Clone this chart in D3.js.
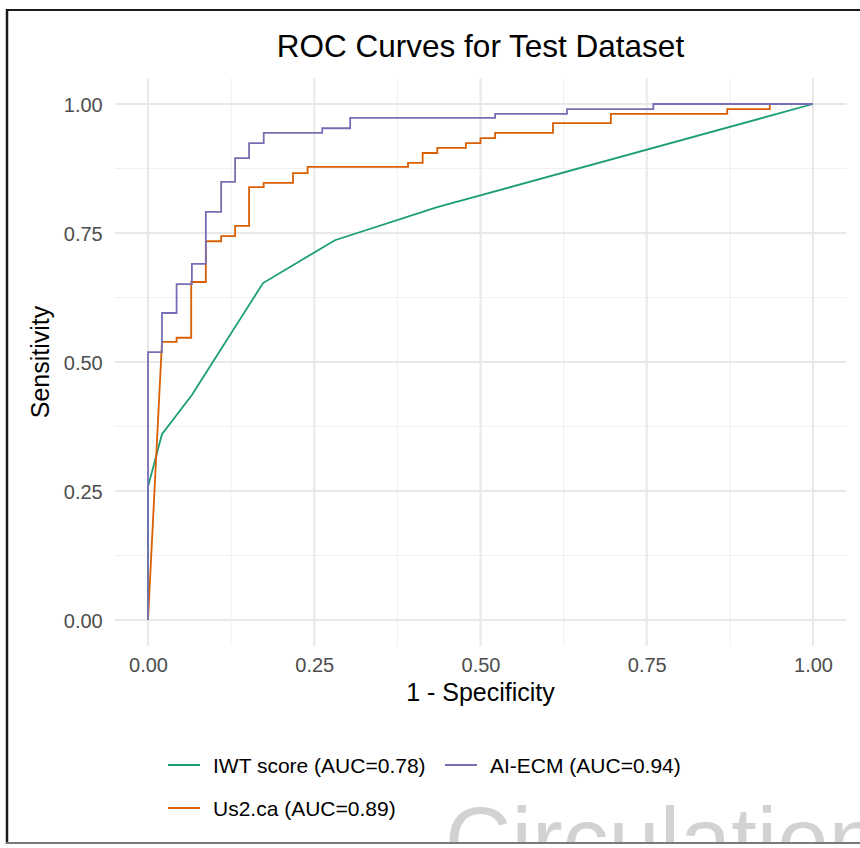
<!DOCTYPE html>
<html>
<head>
<meta charset="utf-8">
<script src="https://cdn.jsdelivr.net/npm/d3@7"></script>
<style>
  body { margin: 0; background: #fff; }
  text { font-family: "Liberation Sans", Arial, sans-serif; }
</style>
</head>
<body>
<div id="rocChart"></div>
<script>
// ROC curve points (1 - specificity, sensitivity)
const iwtFpr  = [0, 0, 0.021, 0.066, 0.173, 0.281, 0.435, 1];
const iwtSens = [0, 0.258, 0.36, 0.436, 0.653, 0.736, 0.80, 1];

const aiFpr  = [0, 0, 0.021, 0.021, 0.043, 0.043, 0.066, 0.066, 0.087, 0.087, 0.11, 0.11, 0.131, 0.131,
                0.152, 0.152, 0.174, 0.174, 0.262, 0.262, 0.304, 0.304, 0.522, 0.522, 0.63, 0.63, 0.76, 0.76, 1];
const aiSens = [0, 0.519, 0.519, 0.595, 0.595, 0.651, 0.651, 0.69, 0.69, 0.791, 0.791, 0.849, 0.849, 0.895,
                0.895, 0.924, 0.924, 0.944, 0.944, 0.953, 0.953, 0.973, 0.973, 0.981, 0.981, 0.99, 0.99, 1, 1];

const usFpr  = [0, 0.021, 0.043, 0.043, 0.065, 0.065, 0.087, 0.087, 0.11, 0.11, 0.131, 0.131, 0.152, 0.152,
                0.174, 0.174, 0.218, 0.218, 0.24, 0.24, 0.391, 0.391, 0.413, 0.413, 0.435, 0.435, 0.478, 0.478,
                0.50, 0.50, 0.522, 0.522, 0.609, 0.609, 0.696, 0.696, 0.871, 0.871, 0.935, 0.935, 1];
const usSens = [0, 0.539, 0.539, 0.547, 0.547, 0.655, 0.655, 0.734, 0.734, 0.744, 0.744, 0.764, 0.764, 0.839,
                0.839, 0.847, 0.847, 0.866, 0.866, 0.878, 0.878, 0.886, 0.886, 0.905, 0.905, 0.915, 0.915, 0.924,
                0.924, 0.934, 0.934, 0.944, 0.944, 0.963, 0.963, 0.981, 0.981, 0.99, 0.99, 1, 1];

const seriesNames = ["IWT score (AUC=0.78)", "AI-ECM (AUC=0.94)", "Us2.ca (AUC=0.89)"];
const majorTicks = [0, 0.25, 0.5, 0.75, 1];
const minorTicks = [0.125, 0.375, 0.625, 0.875];

const colors = ["#1B9E77", "#7570B3", "#D95F02"];
const width = 860, height = 848;

const svg = d3.select("#rocChart")
  .append("svg")
    .attr("width", width)
    .attr("height", height)
    .style("background-color", "#fff");

// panel: ggplot style 5% expansion around 0..1
const x = d3.scaleLinear().domain([0, 1]).range([148, 813]);
const y = d3.scaleLinear().domain([0, 1]).range([620, 104]);
const panelX = [x(-0.05), x(1.05)];
const panelY = [y(1.05), y(-0.05)];

const grid = svg.append("g");
grid.selectAll(".minor-x")
  .data(minorTicks)
  .join("line")
    .attr("x1", d => x(d)).attr("x2", d => x(d))
    .attr("y1", panelY[0]).attr("y2", panelY[1])
    .attr("stroke", "#f0f0f0").attr("stroke-width", 1.1);
grid.selectAll(".minor-y")
  .data(minorTicks)
  .join("line")
    .attr("y1", d => y(d)).attr("y2", d => y(d))
    .attr("x1", panelX[0]).attr("x2", panelX[1])
    .attr("stroke", "#f0f0f0").attr("stroke-width", 1.1);
grid.selectAll(".major-x")
  .data(majorTicks)
  .join("line")
    .attr("x1", d => x(d)).attr("x2", d => x(d))
    .attr("y1", panelY[0]).attr("y2", panelY[1])
    .attr("stroke", "#e8e8e8").attr("stroke-width", 2);
grid.selectAll(".major-y")
  .data(majorTicks)
  .join("line")
    .attr("y1", d => y(d)).attr("y2", d => y(d))
    .attr("x1", panelX[0]).attr("x2", panelX[1])
    .attr("stroke", "#e8e8e8").attr("stroke-width", 2);

// axes without lines, labels only
const xAxis = svg.append("g")
  .attr("transform", "translate(0," + (panelY[1] + 4) + ")")
  .call(d3.axisBottom(x).tickValues(majorTicks).tickFormat(d3.format(".2f")).tickSize(0).tickPadding(8));
const yAxis = svg.append("g")
  .attr("transform", "translate(" + (panelX[0] - 4) + ",0)")
  .call(d3.axisLeft(y).tickValues(majorTicks).tickFormat(d3.format(".2f")).tickSize(0).tickPadding(8));
svg.selectAll(".domain").remove();
svg.selectAll(".tick text")
  .style("fill", "#4d4d4d")
  .style("font-size", "20px")
  .style("font-family", "Liberation Sans, Arial, sans-serif");
yAxis.selectAll(".tick text").attr("dy", "0.36em");

const series = [
  {name: seriesNames[0], fpr: iwtFpr, sens: iwtSens, color: colors[0]},
  {name: seriesNames[1], fpr: aiFpr, sens: aiSens, color: colors[1]},
  {name: seriesNames[2], fpr: usFpr, sens: usSens, color: colors[2]}
];

const line = d3.line()
  .x(d => x(d[0]))
  .y(d => y(d[1]));

// draw order: IWT, Us2.ca, AI-ECM on top
[series[0], series[2], series[1]].forEach(s => {
  svg.append("path")
    .datum(s.fpr.map((f, i) => [f, s.sens[i]]))
    .attr("fill", "none")
    .attr("stroke", s.color)
    .attr("stroke-width", 1.8)
    .attr("stroke-linejoin", "miter")
    .attr("d", line);
});

svg.append("text")
  .attr("x", (panelX[0] + panelX[1]) / 2)
  .attr("y", 57)
  .attr("text-anchor", "middle")
  .style("font-size", "31.5px")
  .style("fill", "#000")
  .text("ROC Curves for Test Dataset");

svg.append("text")
  .attr("x", (panelX[0] + panelX[1]) / 2)
  .attr("y", 701)
  .attr("text-anchor", "middle")
  .style("font-size", "25px")
  .style("fill", "#000")
  .text("1 - Specificity");

svg.append("text")
  .attr("transform", "translate(49," + ((panelY[0] + panelY[1]) / 2) + ") rotate(-90)")
  .attr("text-anchor", "middle")
  .style("font-size", "25px")
  .style("fill", "#000")
  .text("Sensitivity");

// legend
const legendPos = [[168, 765], [445, 765], [168, 808]];
series.forEach((s, i) => {
  const g = svg.append("g").attr("transform", "translate(" + legendPos[i][0] + "," + legendPos[i][1] + ")");
  g.append("line")
    .attr("x1", 0).attr("x2", 32)
    .attr("stroke", s.color).attr("stroke-width", 2);
  g.append("text")
    .attr("x", 45)
    .attr("dy", "0.36em")
    .style("font-size", "21px")
    .style("fill", "#000")
    .text(s.name);
});

// journal watermark, cut at the frame
svg.append("clipPath").attr("id", "frameClip")
  .append("rect").attr("x", 0).attr("y", 0).attr("width", width).attr("height", 843);
svg.append("text")
  .attr("clip-path", "url(#frameClip)")
  .attr("x", 445)
  .attr("y", 872)
  .style("font-size", "92px")
  .style("fill", "#d2d2d2")
  .text("Circulation");

// frame
svg.append("line").attr("x1", 7).attr("x2", 7).attr("y1", 9).attr("y2", 844)
  .attr("stroke", "#1a1a1a").attr("stroke-width", 2.5);
svg.append("line").attr("x1", 6).attr("x2", width).attr("y1", 10).attr("y2", 10)
  .attr("stroke", "#1a1a1a").attr("stroke-width", 2);
svg.append("line").attr("x1", 6).attr("x2", width).attr("y1", 843).attr("y2", 843)
  .attr("stroke", "#7a7a7a").attr("stroke-width", 2);
</script>
</body>
</html>
